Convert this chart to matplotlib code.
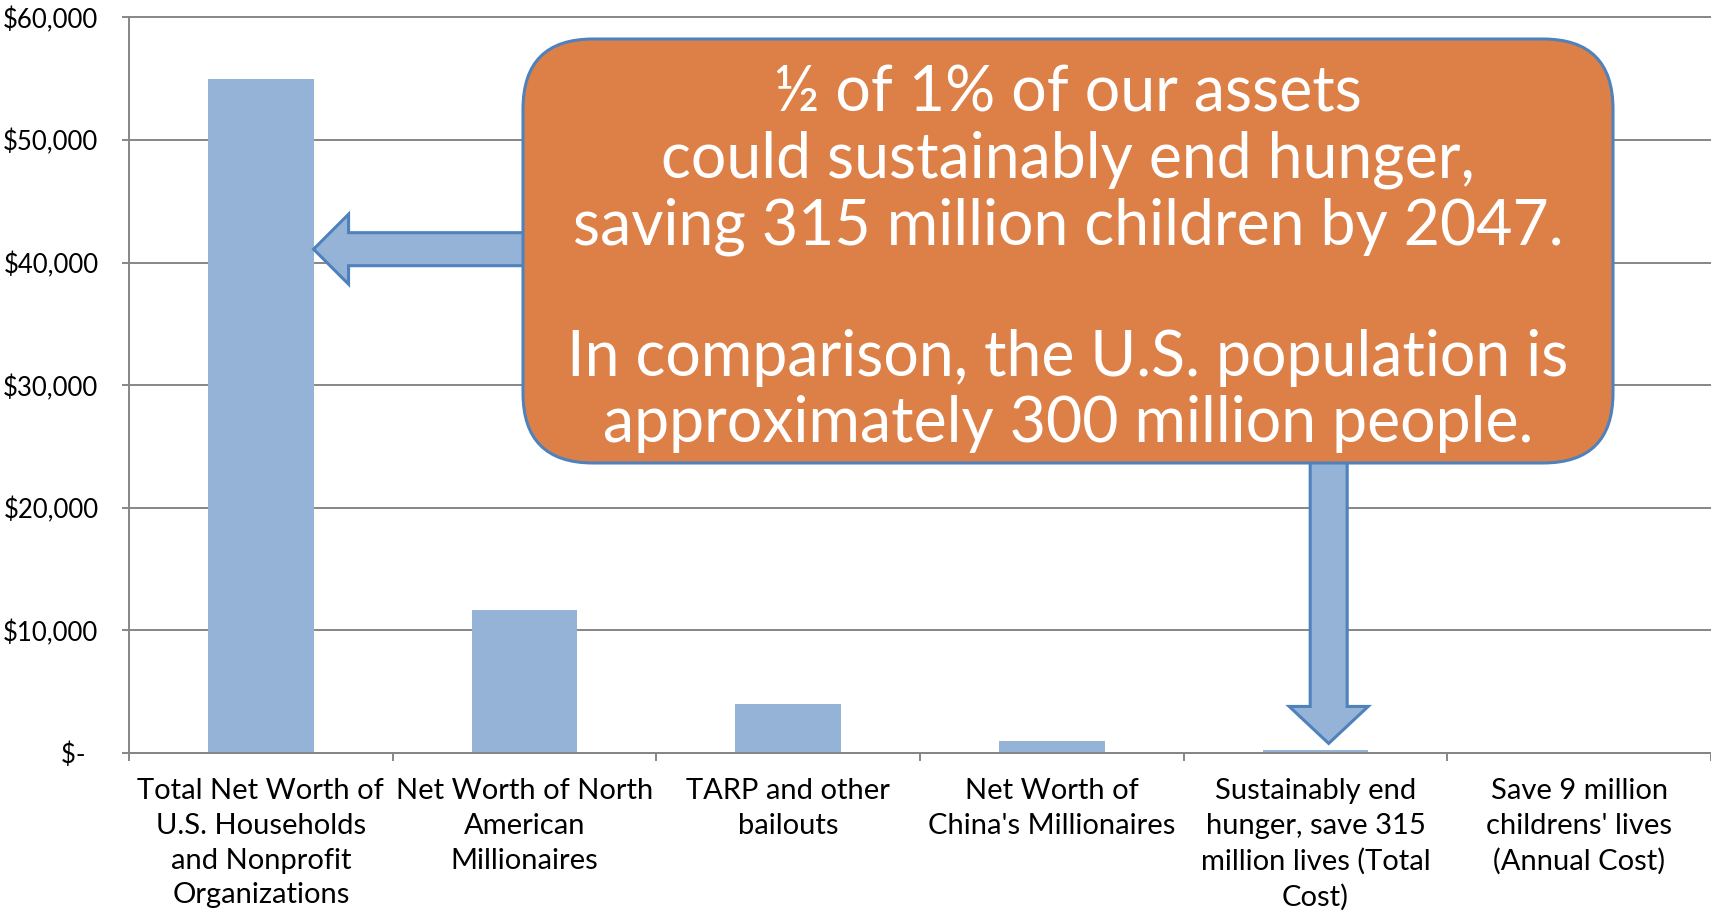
import matplotlib
matplotlib.use("Agg")
import matplotlib.pyplot as plt
from matplotlib.patches import FancyBboxPatch, Polygon
from matplotlib.transforms import IdentityTransform
from matplotlib.ticker import FuncFormatter, FixedLocator

plt.rcParams['font.family'] = ['Lato', 'DejaVu Sans']

# Data (billions of US dollars)
categories = [
    "Total Net Worth of\nU.S. Households\nand Nonprofit\nOrganizations",
    "Net Worth of North\nAmerican\nMillionaires",
    "TARP and other\nbailouts",
    "Net Worth of\nChina's Millionaires",
    "Sustainably end\nhunger, save 315\nmillion lives (Total\nCost)",
    "Save 9 million\nchildrens' lives\n(Annual Cost)",
]
values = [55000, 11700, 4000, 1000, 275, 5]
y_ticks = [0, 10000, 20000, 30000, 40000, 50000, 60000]

callout_text = ("½ of 1% of our assets\n"
                "could sustainably end hunger,\n"
                "saving 315 million children by 2047.\n"
                "\n"
                "In comparison, the U.S. population is\n"
                "approximately 300 million people.")

W, H = 1711, 916
BAR = "#95B3D7"
EDGE = "#4F81BD"
GRID = "#868686"
ORANGE = "#DD8047"

fig = plt.figure(figsize=(W / 100, H / 100), dpi=100)
ax_left, ax_bottom_px, ax_top_px = 129, 753, 17.5
ax = fig.add_axes([ax_left / W, 1 - ax_bottom_px / H, 1 - ax_left / W,
                   (ax_bottom_px - ax_top_px) / H])

x = list(range(len(categories)))
ax.bar(x, values, width=0.4, color=BAR, zorder=2)
ax.set_xlim(-0.5, len(categories) - 0.5)
ax.set_ylim(0, 60000)

# Axes styling
for side in ("top", "right"):
    ax.spines[side].set_visible(False)
for side in ("left", "bottom"):
    ax.spines[side].set_color(GRID)
    ax.spines[side].set_linewidth(1.4)

ax.set_yticks(y_ticks)
ax.yaxis.set_major_formatter(FuncFormatter(
    lambda v, p: "$-  " if v == 0 else f"${v:,.0f}"))
ax.tick_params(axis="y", length=5, width=1.4, color=GRID, pad=17,
               labelsize=18.5, labelcolor="black")
ax.yaxis.grid(True, color=GRID, linewidth=1.4, zorder=0)
for gl in ax.get_ygridlines():
    gl.set_clip_on(False)
ax.set_axisbelow(True)

ax.set_xticks(x)
ax.set_xticklabels(categories, fontsize=21, linespacing=1.42, va="top")
ax.xaxis.set_minor_locator(FixedLocator([i - 0.5 for i in range(len(categories) + 1)]))
ax.tick_params(axis="x", which="major", length=0, pad=18, labelcolor="black")
ax.tick_params(axis="x", which="minor", length=6, width=1.4, color=GRID)

# Callout box geometry in figure pixels (measured from top-left)
bx0, by0, bx1, by1 = 523, 39, 1613, 463
ident = IdentityTransform()

def disp_y(y_from_top):
    return H - y_from_top

# Left-pointing block arrow toward the first bar
tx, ty = ax.transData.transform((0.2, 41100))
head_len, head_half, shaft_half = 35, 35, 16.5
tail = bx0 + 10
left_arrow = Polygon([
    (tx, ty), (tx + head_len, ty + head_half), (tx + head_len, ty + shaft_half),
    (tail, ty + shaft_half), (tail, ty - shaft_half),
    (tx + head_len, ty - shaft_half), (tx + head_len, ty - head_half)],
    closed=True, facecolor=BAR, edgecolor=EDGE, linewidth=2.2,
    transform=ident, zorder=5)
fig.add_artist(left_arrow)

# Downward block arrow toward the hunger bar
dx, dy = ax.transData.transform((4.05, 780))
head_len, head_half, shaft_half = 37, 39.5, 18.5
tail = disp_y(by1) + 10
down_arrow = Polygon([
    (dx, dy), (dx - head_half, dy + head_len), (dx - shaft_half, dy + head_len),
    (dx - shaft_half, tail), (dx + shaft_half, tail),
    (dx + shaft_half, dy + head_len), (dx + head_half, dy + head_len)],
    closed=True, facecolor=BAR, edgecolor=EDGE, linewidth=2.2,
    transform=ident, zorder=5)
fig.add_artist(down_arrow)

box = FancyBboxPatch((bx0, disp_y(by1)), bx1 - bx0, by1 - by0,
                     boxstyle="round,pad=0,rounding_size=70",
                     facecolor=ORANGE, edgecolor=EDGE, linewidth=2.2,
                     transform=ident, zorder=6)
fig.add_artist(box)

fig.text(((bx0 + bx1) / 2) / W, 1 - 259 / H, callout_text, ha="center",
         va="center", color="white", fontsize=45, linespacing=1.17,
         zorder=7)

fig.savefig("out.png", dpi=100)
